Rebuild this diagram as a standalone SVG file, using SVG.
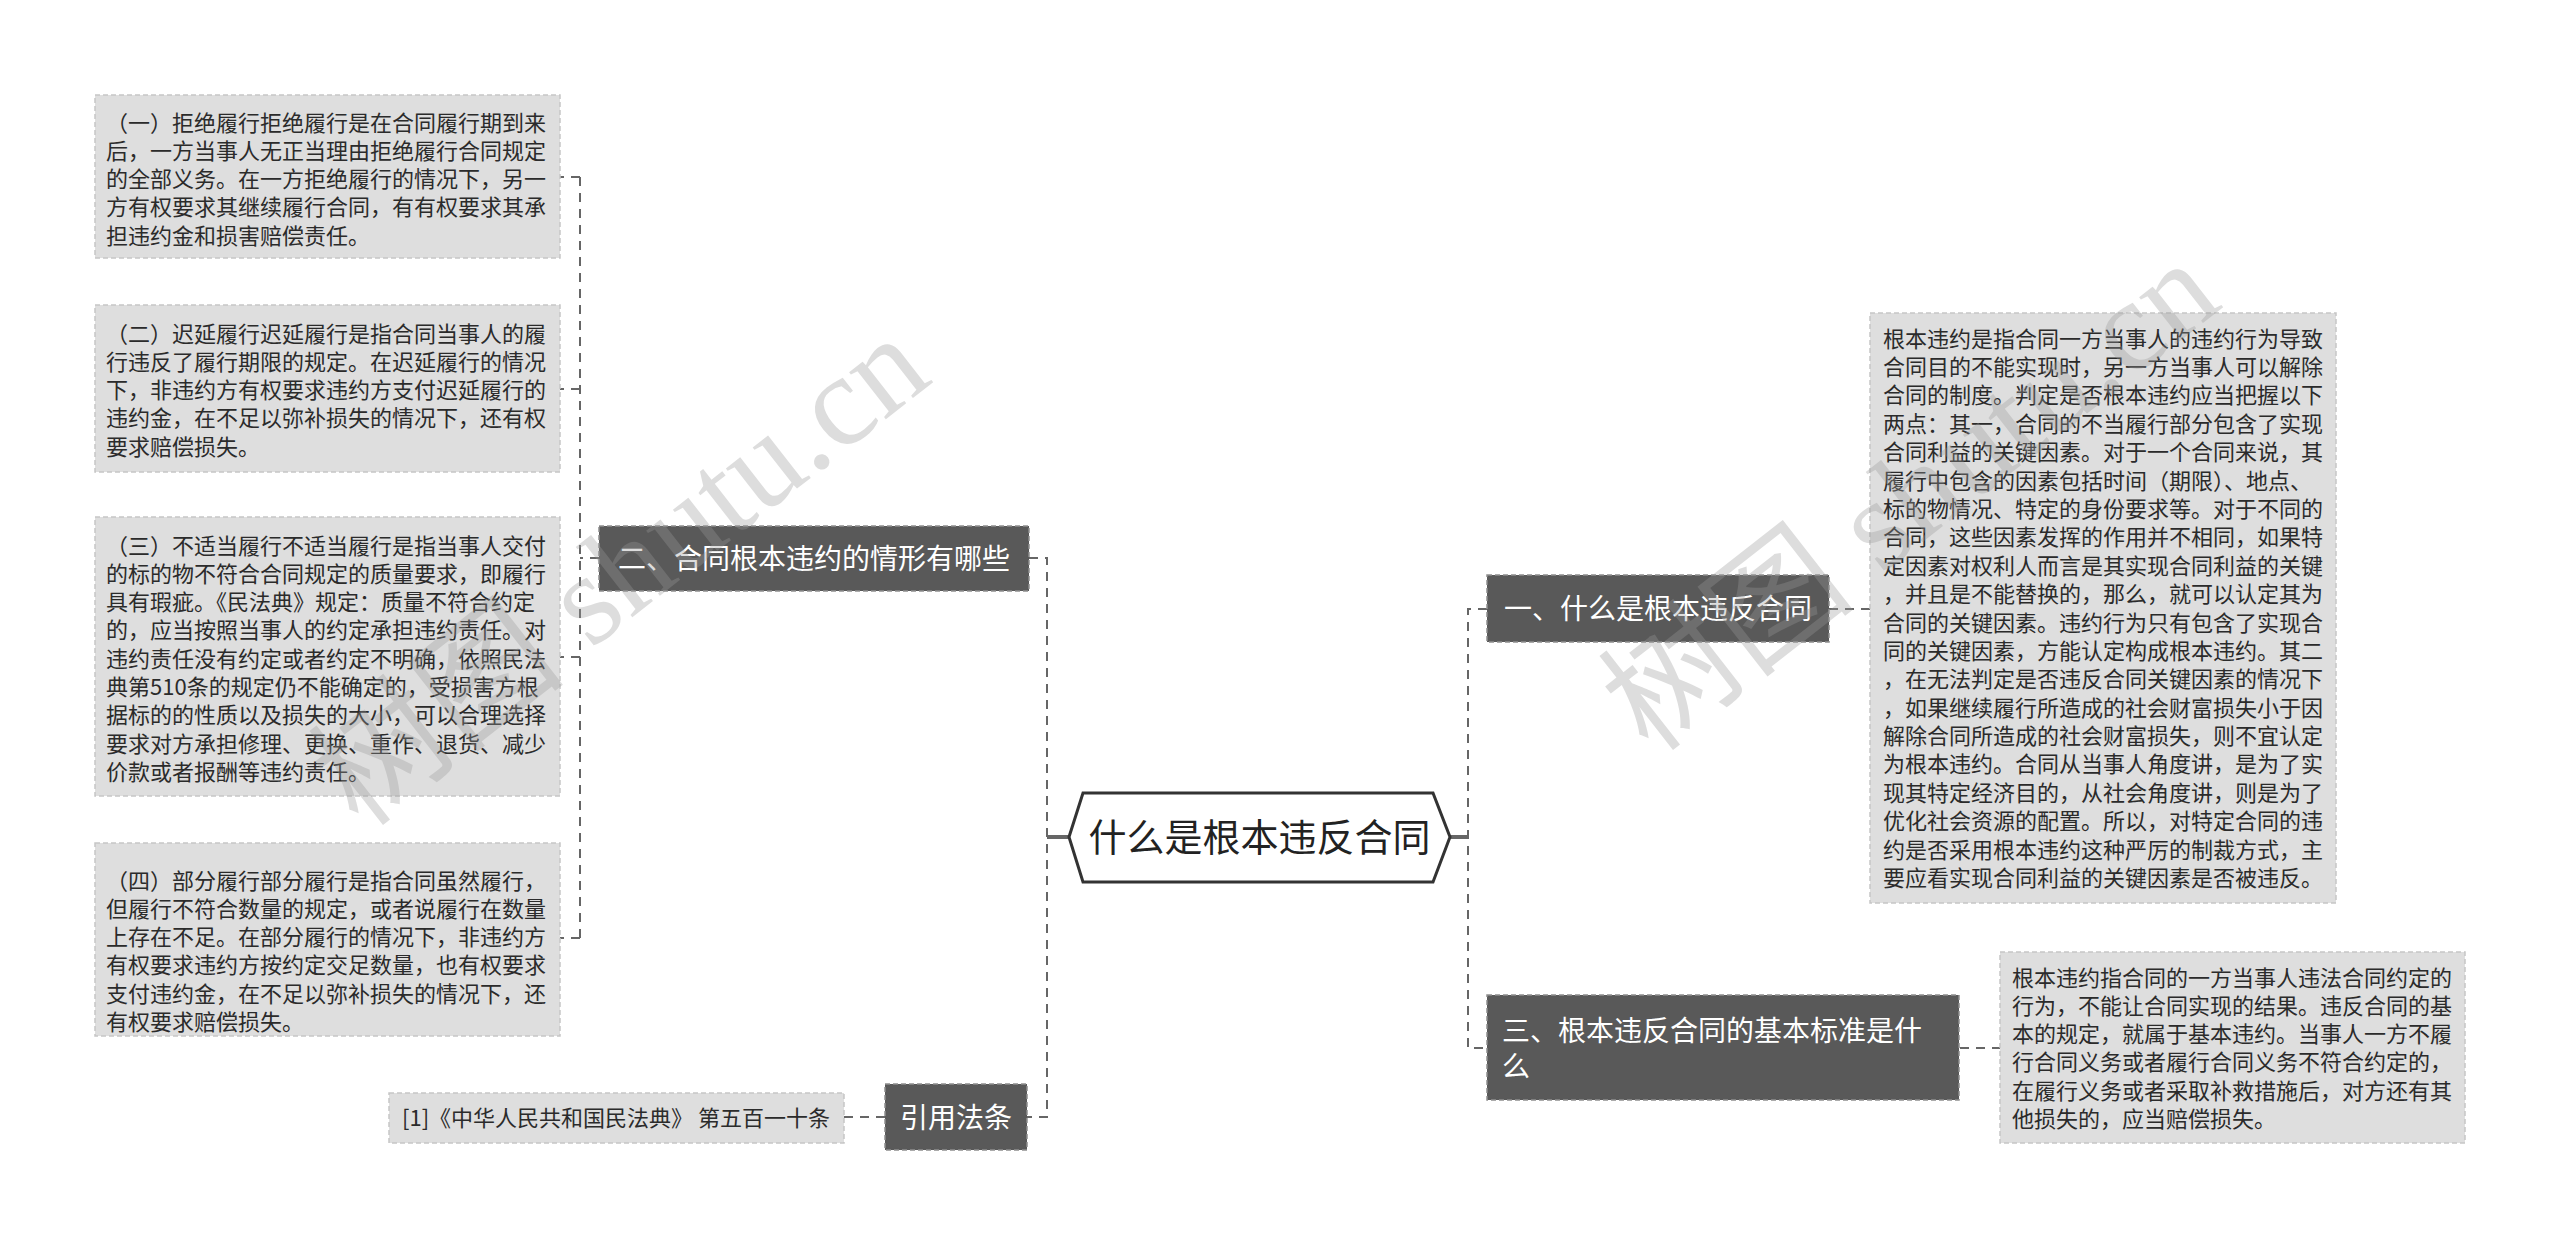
<svg xmlns="http://www.w3.org/2000/svg" width="2560" height="1245" viewBox="0 0 2560 1245">
<defs>
<style>
.leaf{fill:#dedede;stroke:#c6c6c6;stroke-width:1.5;stroke-dasharray:5,3}
.dark{fill:#595959;stroke:#8e8e8e;stroke-width:1.5;stroke-dasharray:5,3}
.lt{font-family:"Noto Sans CJK SC","Noto Sans",sans-serif;font-size:22px;fill:#2b2b2b}
.dt{font-family:"Noto Sans CJK SC","Noto Sans",sans-serif;font-size:28px;fill:#ffffff}
.ct{font-family:"Noto Sans CJK SC","Noto Sans",sans-serif;font-size:38px;fill:#222222}
.conn{fill:none;stroke:#666666;stroke-width:2;stroke-dasharray:9,7}
.stub{fill:none;stroke:#666666;stroke-width:4}
.wm{font-family:"Liberation Serif","Noto Sans CJK SC",serif;font-size:130px;fill:#999999;opacity:0.33}
</style>
</defs>
<rect width="2560" height="1245" fill="#ffffff"/>

<g id="connectors">
<path class="conn" d="M599,558 H580 M580,177 V938 M580,177 H560 M580,389 H560 M580,657 H560 M580,938 H560"/>
<path class="conn" d="M1029,558 H1047 V1117 H1027"/>
<path class="conn" d="M885,1117 H844"/>
<path class="conn" d="M1487,609 H1468 V1048 H1487"/>
<path class="conn" d="M1829,609 H1870"/>
<path class="conn" d="M1960,1048 H2000"/>
<path class="stub" d="M1069,837 H1047"/>
<path class="stub" d="M1450,837 H1468"/>
</g>

<g id="root">
<polygon points="1069,837 1083,793 1433,793 1450,837 1433,882 1083,882" fill="#ffffff" stroke="#333333" stroke-width="3"/>
<text class="ct" x="1259.5" y="851" text-anchor="middle">什么是根本违反合同</text>
</g>

<g id="n2">
<rect class="dark" x="599" y="526" width="430" height="65"/>
<text class="dt" x="814" y="568.5" text-anchor="middle">二、合同根本违约的情形有哪些</text>
</g>

<g id="n2a">
<rect class="leaf" x="95" y="95" width="465" height="163"/>
<text class="lt" y="130.5"><tspan x="106">（一）拒绝履行拒绝履行是在合同履行期到来</tspan><tspan x="106" dy="28.3">后，一方当事人无正当理由拒绝履行合同规定</tspan><tspan x="106" dy="28.3">的全部义务。在一方拒绝履行的情况下，另一</tspan><tspan x="106" dy="28.3">方有权要求其继续履行合同，有有权要求其承</tspan><tspan x="106" dy="28.3">担违约金和损害赔偿责任。</tspan></text>
</g>

<g id="n2b">
<rect class="leaf" x="95" y="305" width="465" height="167"/>
<text class="lt" y="341.5"><tspan x="106">（二）迟延履行迟延履行是指合同当事人的履</tspan><tspan x="106" dy="28.3">行违反了履行期限的规定。在迟延履行的情况</tspan><tspan x="106" dy="28.3">下，非违约方有权要求违约方支付迟延履行的</tspan><tspan x="106" dy="28.3">违约金，在不足以弥补损失的情况下，还有权</tspan><tspan x="106" dy="28.3">要求赔偿损失。</tspan></text>
</g>

<g id="n2c">
<rect class="leaf" x="95" y="517" width="465" height="279"/>
<text class="lt" y="553.5"><tspan x="106">（三）不适当履行不适当履行是指当事人交付</tspan><tspan x="106" dy="28.3">的标的物不符合合同规定的质量要求，即履行</tspan><tspan x="106" dy="28.3">具有瑕疵。《民法典》规定：质量不符合约定</tspan><tspan x="106" dy="28.3">的，应当按照当事人的约定承担违约责任。对</tspan><tspan x="106" dy="28.3">违约责任没有约定或者约定不明确，依照民法</tspan><tspan x="106" dy="28.3">典第510条的规定仍不能确定的，受损害方根</tspan><tspan x="106" dy="28.3">据标的的性质以及损失的大小，可以合理选择</tspan><tspan x="106" dy="28.3">要求对方承担修理、更换、重作、退货、减少</tspan><tspan x="106" dy="28.3">价款或者报酬等违约责任。</tspan></text>
</g>

<g id="n2d">
<rect class="leaf" x="95" y="843" width="465" height="193"/>
<text class="lt" y="888.5"><tspan x="106">（四）部分履行部分履行是指合同虽然履行，</tspan><tspan x="106" dy="28.3">但履行不符合数量的规定，或者说履行在数量</tspan><tspan x="106" dy="28.3">上存在不足。在部分履行的情况下，非违约方</tspan><tspan x="106" dy="28.3">有权要求违约方按约定交足数量，也有权要求</tspan><tspan x="106" dy="28.3">支付违约金，在不足以弥补损失的情况下，还</tspan><tspan x="106" dy="28.3">有权要求赔偿损失。</tspan></text>
</g>

<g id="n4">
<rect class="dark" x="885" y="1084" width="142" height="66"/>
<text class="dt" x="956" y="1127.5" text-anchor="middle">引用法条</text>
</g>

<g id="n4a">
<rect class="leaf" x="389" y="1093" width="455" height="50"/>
<text class="lt" x="402" y="1125.5">[1]《中华人民共和国民法典》 第五百一十条</text>
</g>

<g id="n1">
<rect class="dark" x="1487" y="575" width="342" height="67"/>
<text class="dt" x="1658" y="618.5" text-anchor="middle">一、什么是根本违反合同</text>
</g>

<g id="n1a">
<rect class="leaf" x="1870" y="313" width="466" height="590"/>
<text class="lt" y="346.5"><tspan x="1883">根本违约是指合同一方当事人的违约行为导致</tspan><tspan x="1883" dy="28.4">合同目的不能实现时，另一方当事人可以解除</tspan><tspan x="1883" dy="28.4">合同的制度。判定是否根本违约应当把握以下</tspan><tspan x="1883" dy="28.4">两点：其一，合同的不当履行部分包含了实现</tspan><tspan x="1883" dy="28.4">合同利益的关键因素。对于一个合同来说，其</tspan><tspan x="1883" dy="28.4">履行中包含的因素包括时间（期限）、地点、</tspan><tspan x="1883" dy="28.4">标的物情况、特定的身份要求等。对于不同的</tspan><tspan x="1883" dy="28.4">合同，这些因素发挥的作用并不相同，如果特</tspan><tspan x="1883" dy="28.4">定因素对权利人而言是其实现合同利益的关键</tspan><tspan x="1883" dy="28.4">，并且是不能替换的，那么，就可以认定其为</tspan><tspan x="1883" dy="28.4">合同的关键因素。违约行为只有包含了实现合</tspan><tspan x="1883" dy="28.4">同的关键因素，方能认定构成根本违约。其二</tspan><tspan x="1883" dy="28.4">，在无法判定是否违反合同关键因素的情况下</tspan><tspan x="1883" dy="28.4">，如果继续履行所造成的社会财富损失小于因</tspan><tspan x="1883" dy="28.4">解除合同所造成的社会财富损失，则不宜认定</tspan><tspan x="1883" dy="28.4">为根本违约。合同从当事人角度讲，是为了实</tspan><tspan x="1883" dy="28.4">现其特定经济目的，从社会角度讲，则是为了</tspan><tspan x="1883" dy="28.4">优化社会资源的配置。所以，对特定合同的违</tspan><tspan x="1883" dy="28.4">约是否采用根本违约这种严厉的制裁方式，主</tspan><tspan x="1883" dy="28.4">要应看实现合同利益的关键因素是否被违反。</tspan></text>
</g>

<g id="n3">
<rect class="dark" x="1487" y="995" width="472" height="105"/>
<text class="dt" y="1040.5"><tspan x="1502">三、根本违反合同的基本标准是什</tspan><tspan x="1502" dy="36.5">么</tspan></text>
</g>

<g id="n3a">
<rect class="leaf" x="2000" y="952" width="465" height="191"/>
<text class="lt" y="985.5"><tspan x="2012">根本违约指合同的一方当事人违法合同约定的</tspan><tspan x="2012" dy="28.3">行为，不能让合同实现的结果。违反合同的基</tspan><tspan x="2012" dy="28.3">本的规定，就属于基本违约。当事人一方不履</tspan><tspan x="2012" dy="28.3">行合同义务或者履行合同义务不符合约定的，</tspan><tspan x="2012" dy="28.3">在履行义务或者采取补救措施后，对方还有其</tspan><tspan x="2012" dy="28.3">他损失的，应当赔偿损失。</tspan></text>
</g>

<g id="watermarks">
<text class="wm" transform="translate(360,830) rotate(-38)">树图 shutu.cn</text>
<text class="wm" transform="translate(1650,755) rotate(-38)">树图 shutu.cn</text>
</g>
</svg>
